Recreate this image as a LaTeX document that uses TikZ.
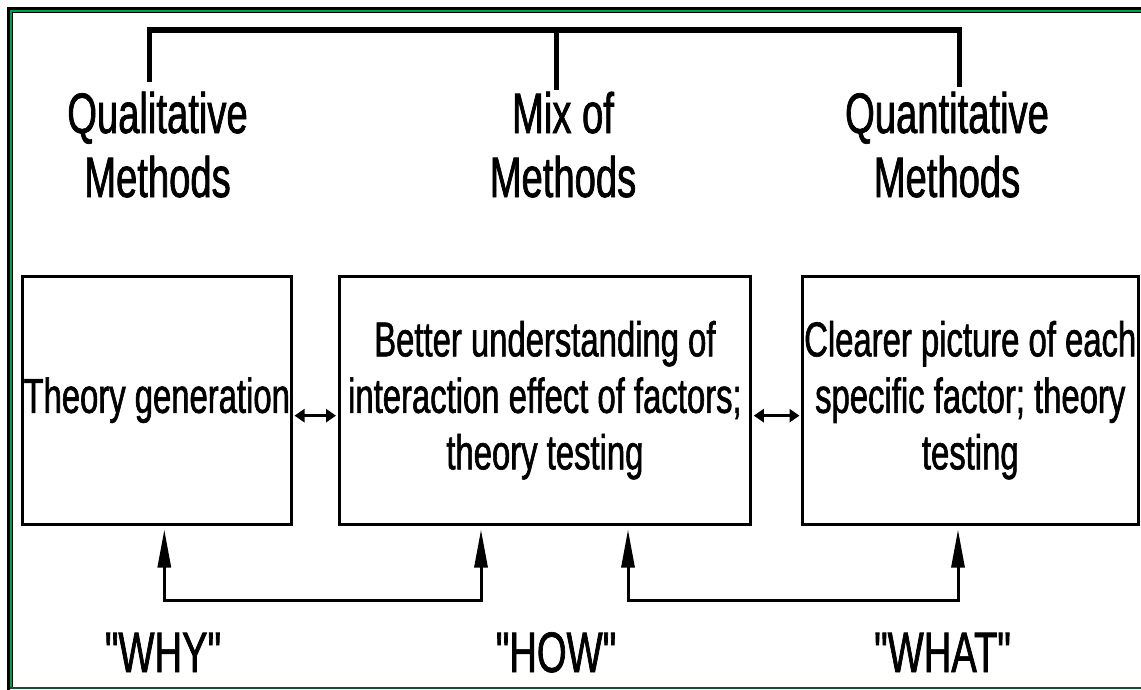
\documentclass[tikz,border=0pt]{standalone}
\usepackage{fontspec}
\newfontfamily\narrowsans[FakeStretch=0.67, FakeBold=1.2]{Liberation Sans}
\usetikzlibrary{arrows.meta}
\definecolor{framegreen}{RGB}{0,160,75}
\definecolor{framedark}{RGB}{20,80,45}

\begin{document}
\begin{tikzpicture}[x=1pt, y=-1pt,
  every node/.style={inner sep=0pt, outer sep=0pt},
  heading/.style={font=\narrowsans\fontsize{57}{64}\selectfont, align=center, anchor=north},
  answer/.style={font=\narrowsans\fontsize{57}{64}\selectfont, anchor=base},
  stepbox/.style={draw, line width=3pt, minimum height=248.3pt, align=center,
    font=\narrowsans\fontsize{49}{56.5}\selectfont},
  bracket/.style={line width=5.5pt, line join=miter},
  pair/.style={line width=3.5pt, shorten <=3pt, shorten >=3pt,
    {Triangle[length=10pt,width=13pt]}-{Triangle[length=10pt,width=13pt]}},
  rise/.style={line width=3pt, line join=miter, shorten <=5.2pt, shorten >=5.2pt,
    {Triangle[length=38pt,width=13pt]}-{Triangle[length=38pt,width=13pt]}},
]
\useasboundingbox (0,0) rectangle (1141,689);
\fill[white] (0,0) rectangle (1141,689);

% frame
\draw[line width=3pt] (8.5,8.5) rectangle (1200,1000);
\draw[framegreen, line width=1.6pt] (10.8,10.8) rectangle (1200,688);
\draw[line width=0.8pt] (12.2,689) -- (12.2,12.2) -- (1141,12.2);
\draw[framedark, line width=1.5pt] (10,688.2) -- (1141,688.2);

% headings
\node[heading] (qual)  at (157.5,88) {\rule{0pt}{45pt}Qualitative\\Methods};
\node[heading] (mix)   at (563,88)   {\rule{0pt}{45pt}Mix of\\Methods};
\node[heading] (quant) at (947,88)   {\rule{0pt}{45pt}Quantitative\\Methods};

% bracket over the headings
\coordinate (bl) at (149.5,30);
\coordinate (bm) at (556.5,30);
\coordinate (br) at (959.5,30);
\coordinate (qualtip)  at (149.5,82);
\coordinate (mixtip)   at (556.5,90);
\coordinate (quanttip) at (959.5,87);
\draw[bracket] (qualtip) -- (bl) -- (br) -- (quanttip);
\draw[bracket] (bm) -- (mixtip);

% boxes
\node[stepbox, minimum width=269.5pt] (gen)  at (156.75,400.15) {Theory generation};
\node[stepbox, minimum width=411.8pt] (test) at (544.9,400.15)
  {Better understanding of\\interaction effect of factors;\\theory testing};
\node[stepbox, minimum width=335.5pt] (each) at (970.25,400.15)
  {Clearer picture of each\\specific factor; theory\\testing};

% links between boxes
\draw[pair] ([yshift=-15.5pt]gen.east) -- ([yshift=-15.5pt]test.west);
\draw[pair] ([yshift=-15.5pt]test.east) -- ([yshift=-15.5pt]each.west);

% feedback connectors under the boxes
\coordinate (whyfoot)   at (164.3,600);
\coordinate (howfoot)   at (481,600);
\coordinate (howfoot2)  at (628,600);
\coordinate (whatfoot)  at (958,600);
\draw[rise] (gen.south -| whyfoot) -- (whyfoot) -- (howfoot) -- (test.south -| howfoot);
\draw[rise] (test.south -| howfoot2) -- (howfoot2) -- (whatfoot) -- (each.south -| whatfoot);

% answers
\node[answer] (why)  at (163,672)   {"WHY"};
\node[answer] (how)  at (556,672)   {"HOW"};
\node[answer] (what) at (942.5,672) {"WHAT"};
\end{tikzpicture}
\end{document}
